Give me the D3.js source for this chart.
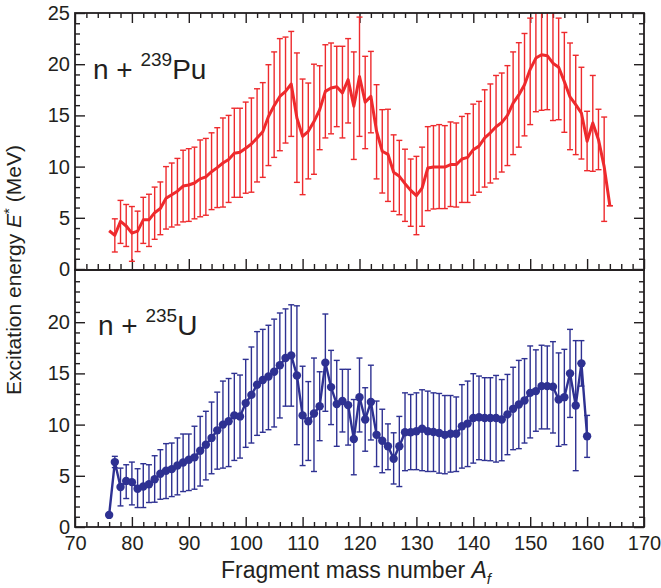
<!DOCTYPE html>
<html>
<head>
<meta charset="utf-8">
<script src="https://cdn.jsdelivr.net/npm/d3@7"></script>
<style>
  body { margin: 0; background: #fff; }
  svg text { font-family: "Liberation Sans", Arial, sans-serif; fill: #231f20; }
  .axis path { display: none; }
  .axis line { stroke: #231f20; stroke-width: 1.4; }
  .axis text { font-size: 20px; }
</style>
</head>
<body>
<div id="chart"></div>
<script>
// mass numbers and excitation energies (MeV)
var massPu = [76,77,78,79,80,81,82,83,84,85,86,87,88,89,90,91,92,93,94,95,96,97,98,99,100,
  101,102,103,104,105,106,107,108,109,110,111,112,113,114,115,116,117,118,119,120,
  121,122,123,124,125,126,127,128,129,130,131,132,133,134,135,136,137,138,139,140,
  141,142,143,144,145,146,147,148,149,150,151,152,153,154,155,156,157,158,159,160,
  161,162,163,164];
var ePu = [3.74,3.3,4.65,4.2,3.5,3.7,4.8,4.8,5.5,5.9,6.9,7.25,7.6,8.1,8.2,8.4,8.8,9.0,9.5,9.9,
  10.35,10.7,11.3,11.4,11.8,12.2,12.8,13.4,14.9,15.95,16.85,17.35,18.07,14.75,12.95,13.45,14.4,15.55,17.35,17.68,
  17.8,17.2,18.5,15.9,18.8,16.3,16.86,13.45,11.5,11.2,9.45,9.05,8.33,7.68,7.16,7.9,9.86,9.96,9.96,9.96,
  10.2,10.2,10.74,10.9,11.65,12.0,12.8,13.3,13.9,14.3,15.0,16.2,17.0,18.0,19.5,20.6,20.93,20.83,20.1,19.7,
  18.3,16.8,16.05,15.23,12.47,14.26,12.63,10.0,6.18];
var hiPu = [null,4.9,6.7,6.3,6.1,5.65,7.0,7.3,8.0,8.5,10.0,10.35,10.8,11.6,11.75,11.9,12.6,12.75,13.3,13.8,
  14.75,15.0,15.7,15.7,16.3,16.7,17.6,18.2,19.95,21.2,22.5,22.65,23.2,21.1,18.55,18.16,20.0,19.85,21.9,22.07,
  21.75,21.75,22.5,21.2,24.6,20.77,21.25,18.0,15.56,15.6,13.1,12.56,11.7,10.74,11.0,11.9,13.9,14.0,14.1,14.0,
  14.36,14.26,14.9,15.17,16.1,16.37,17.5,18.07,18.9,19.14,19.86,21.2,22.1,23.0,24.5,25.8,27,26.5,25.5,24.5,
  23.1,22.07,20.87,19.7,15.4,18.9,15.6,14.84,6.18];
var loPu = [null,1.66,2.5,2.2,0.75,1.7,2.5,2.2,2.9,3.35,3.9,4.1,4.3,4.6,4.65,4.9,5.1,5.25,5.8,6.0,
  6.05,6.5,7.0,7.0,7.4,7.5,8.5,8.95,10.1,10.9,11.55,12.3,12.95,8.46,7.26,8.8,9.25,11.65,12.8,13.2,
  13.9,12.8,14.26,10.7,12.95,11.75,13.3,8.8,7.42,6.6,5.63,5.3,4.65,4.17,3.35,4.17,5.7,5.86,5.9,5.9,
  6.1,6.05,6.5,6.5,7.2,7.5,8.0,8.4,8.8,9.47,10.1,11.17,11.9,13.0,14.1,15.36,15.5,15.56,14.5,14.58,
  13.35,11.65,11.17,10.74,9.6,9.54,9.7,4.65,6.18];

var massU = [76,77,78,79,80,81,82,83,84,85,86,87,88,89,90,91,92,93,94,95,96,97,98,99,100,
  101,102,103,104,105,106,107,108,109,110,111,112,113,114,115,116,117,118,119,120,
  121,122,123,124,125,126,127,128,129,130,131,132,133,134,135,136,137,138,139,140,
  141,142,143,144,145,146,147,148,149,150,151,152,153,154,155,156,157,158,159,160];
var eU = [1.18,6.34,3.9,4.5,4.38,3.73,3.95,4.18,4.67,5.2,5.49,5.65,6.0,6.3,6.57,6.8,7.45,8.04,8.7,9.44,
  10.0,10.33,10.9,10.8,12.1,12.9,13.9,14.35,14.7,15.16,15.8,16.5,16.76,14.8,10.9,10.33,11.08,11.8,16.05,13.66,
  12.0,12.3,11.9,8.6,12.68,10.5,12.2,9.0,8.43,7.88,6.67,7.88,9.25,9.25,9.35,9.6,9.35,9.28,9.18,9.0,
  9.1,9.1,9.84,10.1,10.65,10.72,10.65,10.65,10.65,10.5,11.0,11.54,11.96,12.35,13.1,13.27,13.76,13.76,13.7,12.45,
  12.68,15.0,11.86,15.98,8.86];
var hiU = [null,6.9,5.75,6.08,6.34,5.69,6.18,6.08,6.96,7.55,8.14,8.2,8.7,9.08,9.08,9.84,10.8,11.3,12.2,13.17,
  14.25,14.5,15.0,14.84,16.37,17.58,19.08,19.3,19.7,20.3,20.9,21.3,21.7,21.6,15.7,14.2,16.5,15.16,20.8,17.25,
  16.27,15.4,15.4,12.45,16.5,13.6,15.8,12.3,11.5,10.07,9.2,10.8,13.1,12.94,13.1,13.4,13.27,13.1,13.04,12.84,
  12.84,12.7,13.9,14.25,14.97,14.74,14.58,14.58,14.8,14.4,14.9,15.6,16.27,16.44,17.68,17.3,17.75,17.68,18.1,17.0,
  17.35,19.3,18.2,18.2,10.9];
var loU = [null,5.8,2.06,2.78,2.16,1.9,1.9,2.39,2.42,2.71,2.78,2.97,3.14,3.46,3.56,3.69,4.0,4.6,5.2,5.65,
  5.75,5.9,6.5,6.73,7.78,8.2,8.95,9.25,9.5,9.77,10.65,11.8,11.8,8.04,6.0,6.5,5.42,8.43,11.3,10.0,
  7.88,9.28,8.0,5.1,9.28,7.4,8.5,5.9,5.3,5.6,4.2,3.95,5.5,5.6,5.6,5.5,5.42,5.42,5.26,5.2,
  5.36,5.42,5.75,5.9,6.24,6.57,6.5,6.47,6.34,6.47,7.06,7.55,7.65,8.2,8.7,9.35,9.58,9.58,9.18,7.88,
  8.04,10.7,5.5,13.76,6.8];

var xMajor = [70,80,90,100,110,120,130,140,150,160,170];
var yMajorTop = [0,5,10,15,20,25];
var yMajorBottom = [0,5,10,15,20];

var W = 661, H = 588;
var frame = { left: 75, right: 644, top: 13, mid: 270, bottom: 527 };

var svg = d3.select("#chart").append("svg")
  .attr("width", W).attr("height", H);

var x = d3.scaleLinear().domain([70, 170]).range([frame.left, frame.right]);
var yTop = d3.scaleLinear().domain([0, 25]).range([frame.mid - 1, frame.top]);
var yBot = d3.scaleLinear().domain([0, 25]).range([frame.bottom, frame.mid + 1]);

var xMinor = d3.range(70, 171, 2).filter(v => v % 10 != 0);
var yMinor = d3.range(0, 25.5, 1).filter(v => v % 5 != 0);

function panel(y, yMajor, ticksTop, name) {
  var g = svg.append("g");

  // x ticks on bottom edge, pointing inward
  g.append("g").attr("class", "axis")
    .attr("transform", "translate(0," + y.range()[0] + ")")
    .call(d3.axisBottom(x).tickValues(xMajor).tickSize(-10)
      .tickFormat(name == "U" ? d3.format("d") : "").tickPadding(9));
  g.append("g").attr("class", "axis")
    .attr("transform", "translate(0," + y.range()[0] + ")")
    .call(d3.axisBottom(x).tickValues(xMinor).tickSize(-5).tickFormat(""));

  if (ticksTop) {
    g.append("g").attr("class", "axis")
      .attr("transform", "translate(0," + y.range()[1] + ")")
      .call(d3.axisTop(x).tickValues(xMajor).tickSize(-10).tickFormat(""));
    g.append("g").attr("class", "axis")
      .attr("transform", "translate(0," + y.range()[1] + ")")
      .call(d3.axisTop(x).tickValues(xMinor).tickSize(-5).tickFormat(""));
  }

  // y ticks left / right
  g.append("g").attr("class", "axis")
    .attr("transform", "translate(" + frame.left + ",0)")
    .call(d3.axisLeft(y).tickValues(yMajor).tickSize(-10).tickPadding(5));
  g.append("g").attr("class", "axis")
    .attr("transform", "translate(" + frame.left + ",0)")
    .call(d3.axisLeft(y).tickValues(yMinor).tickSize(-5).tickFormat(""));
  g.append("g").attr("class", "axis")
    .attr("transform", "translate(" + frame.right + ",0)")
    .call(d3.axisRight(y).tickValues(yMajor).tickSize(-10).tickFormat(""));
  g.append("g").attr("class", "axis")
    .attr("transform", "translate(" + frame.right + ",0)")
    .call(d3.axisRight(y).tickValues(yMinor).tickSize(-5).tickFormat(""));

  svg.append("clipPath").attr("id", "clip" + name)
    .append("rect")
      .attr("x", frame.left).attr("y", y.range()[1])
      .attr("width", frame.right - frame.left)
      .attr("height", y.range()[0] - y.range()[1]);

  return svg.append("g").attr("clip-path", "url(#clip" + name + ")");
}

function series(g, y, mass, e, lo, hi, color, dots) {
  var pts = mass.map((m, i) => ({ m: m, e: e[i], lo: lo[i], hi: hi[i] }));
  var bars = pts.filter(d => d.hi != null);
  var cap = 3;

  var eb = g.append("g")
    .attr("stroke", color).attr("stroke-width", 1.4).attr("fill", "none");
  eb.selectAll("line.v").data(bars).enter().append("line")
    .attr("x1", d => x(d.m)).attr("x2", d => x(d.m))
    .attr("y1", d => y(d.lo)).attr("y2", d => y(d.hi));
  eb.selectAll("line.t").data(bars).enter().append("line")
    .attr("x1", d => x(d.m) - cap).attr("x2", d => x(d.m) + cap)
    .attr("y1", d => y(d.hi)).attr("y2", d => y(d.hi));
  eb.selectAll("line.b").data(bars).enter().append("line")
    .attr("x1", d => x(d.m) - cap).attr("x2", d => x(d.m) + cap)
    .attr("y1", d => y(d.lo)).attr("y2", d => y(d.lo));

  g.append("path").datum(pts)
    .attr("fill", "none").attr("stroke", color)
    .attr("stroke-width", dots ? 2.4 : 3).attr("stroke-linejoin", "round")
    .attr("d", d3.line().x(d => x(d.m)).y(d => y(d.e)));

  if (dots) {
    g.selectAll("circle").data(pts).enter().append("circle")
      .attr("cx", d => x(d.m)).attr("cy", d => y(d.e)).attr("r", 4.2)
      .attr("fill", color);
  }
}

var red = "#ee2a2d", blue = "#2e3192";

var gPu = panel(yTop, yMajorTop, true, "Pu");
series(gPu, yTop, massPu, ePu, loPu, hiPu, red, false);

var gU = panel(yBot, yMajorBottom, false, "U");
series(gU, yBot, massU, eU, loU, hiU, blue, true);

// frames
svg.append("rect").attr("x", frame.left).attr("y", frame.top)
  .attr("width", frame.right - frame.left).attr("height", frame.mid - frame.top)
  .attr("fill", "none").attr("stroke", "#231f20").attr("stroke-width", 1.8);
svg.append("rect").attr("x", frame.left).attr("y", frame.mid)
  .attr("width", frame.right - frame.left).attr("height", frame.bottom - frame.mid)
  .attr("fill", "none").attr("stroke", "#231f20").attr("stroke-width", 1.8);

// panel labels
var l1 = svg.append("text").attr("x", 93).attr("y", 79).attr("font-size", 28);
l1.append("tspan").text("n + ");
l1.append("tspan").attr("font-size", 19).attr("dy", -13).text("239");
l1.append("tspan").attr("dy", 13).text("Pu");

var l2 = svg.append("text").attr("x", 98).attr("y", 335).attr("font-size", 28);
l2.append("tspan").text("n + ");
l2.append("tspan").attr("font-size", 19).attr("dy", -13).text("235");
l2.append("tspan").attr("dy", 13).text("U");

// axis titles
var xt = svg.append("text").attr("x", 356).attr("y", 578)
  .attr("text-anchor", "middle").attr("font-size", 23);
xt.append("tspan").text("Fragment mass number ");
xt.append("tspan").attr("font-style", "italic").text("A");
xt.append("tspan").attr("font-style", "italic").attr("font-size", 15).attr("dy", 6).text("f");

var yt = svg.append("text")
  .attr("transform", "translate(21," + frame.mid + ") rotate(-90)")
  .attr("text-anchor", "middle").attr("font-size", 21);
yt.append("tspan").text("Excitation energy ");
yt.append("tspan").attr("font-style", "italic").text("E");
yt.append("tspan").attr("font-size", 15).attr("dy", -7).text("*");
yt.append("tspan").attr("dy", 7).text(" (MeV)");
</script>
</body>
</html>
